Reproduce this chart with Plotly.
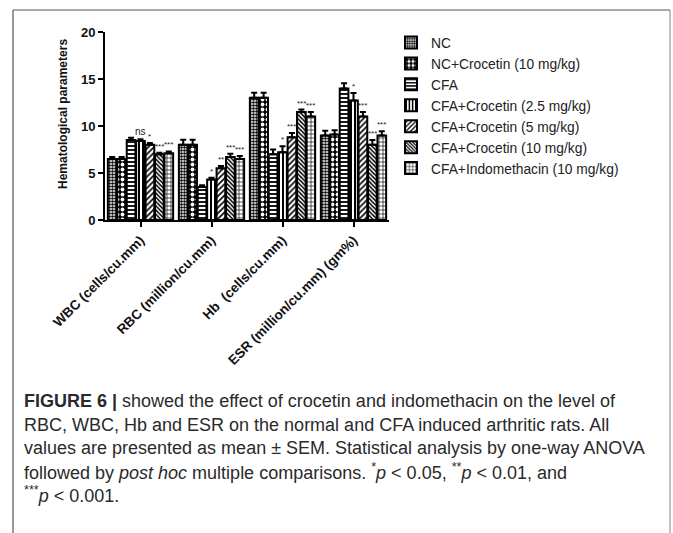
import plotly.graph_objects as go

categories = ["WBC (cells/cu.mm)", "RBC (million/cu.mm)", "Hb  (cells/cu.mm)", "ESR (million/cu.mm) (gm%)"]
groups = ["NC", "NC+Crocetin (10 mg/kg)", "CFA", "CFA+Crocetin (2.5 mg/kg)",
          "CFA+Crocetin (5 mg/kg)", "CFA+Crocetin (10 mg/kg)", "CFA+Indomethacin (10 mg/kg)"]
y_ticks = [0, 5, 10, 15, 20]

# values per group (WBC, RBC, Hb, ESR)
nc        = [6.5, 8.0, 13.0, 9.0]
nc_croc   = [6.5, 8.0, 13.0, 9.1]
cfa       = [8.5, 3.5, 7.0, 14.0]
cfa_c25   = [8.4, 4.3, 7.2, 12.7]
cfa_c5    = [8.0, 5.5, 8.8, 11.0]
cfa_c10   = [7.0, 6.7, 11.5, 8.0]
cfa_indo  = [7.1, 6.5, 11.0, 9.0]

sem_nc       = [0.2, 0.55, 0.55, 0.5]
sem_nc_croc  = [0.2, 0.55, 0.55, 0.45]
sem_cfa      = [0.25, 0.2, 0.5, 0.55]
sem_cfa_c25  = [0.2, 0.2, 0.65, 0.8]
sem_cfa_c5   = [0.2, 0.25, 0.45, 0.5]
sem_cfa_c10  = [0.15, 0.35, 0.25, 0.5]
sem_cfa_indo = [0.2, 0.3, 0.5, 0.45]

sig_nc       = ["", "", "", ""]
sig_nc_croc  = ["", "", "", ""]
sig_cfa      = ["", "", "", ""]
sig_cfa_c25  = ["ns", "*", "*", "*"]
sig_cfa_c5   = ["*", "**", "***", "***"]
sig_cfa_c10  = ["***", "***", "***", "***"]
sig_cfa_indo = ["***", "***", "***", "***"]

values = [nc, nc_croc, cfa, cfa_c25, cfa_c5, cfa_c10, cfa_indo]
sems = [sem_nc, sem_nc_croc, sem_cfa, sem_cfa_c25, sem_cfa_c5, sem_cfa_c10, sem_cfa_indo]
sigs = [sig_nc, sig_nc_croc, sig_cfa, sig_cfa_c25, sig_cfa_c5, sig_cfa_c10, sig_cfa_indo]

patterns = [
    dict(shape=".", size=3, solidity=0.55, fgcolor="black", bgcolor="white"),
    dict(shape=".", size=5, solidity=0.45, fgcolor="white", bgcolor="black"),
    dict(shape="-", size=4, solidity=0.45, fgcolor="black", bgcolor="white"),
    dict(shape="|", size=4, solidity=0.5, fgcolor="black", bgcolor="white"),
    dict(shape="/", size=4, solidity=0.4, fgcolor="black", bgcolor="white"),
    dict(shape="\\", size=3, solidity=0.5, fgcolor="black", bgcolor="white"),
    dict(shape="+", size=4, solidity=0.3, fgcolor="black", bgcolor="white"),
]

W, H = 673, 533
BARGAP = 0.07

fig = go.Figure()
for name, v, e, pat in zip(groups, values, sems, patterns):
    fig.add_trace(go.Bar(
        name=name, x=list(range(len(categories))), y=v,
        marker=dict(color=pat["bgcolor"], line=dict(color="black", width=2),
                    pattern=dict(shape=pat["shape"], size=pat["size"], solidity=pat["solidity"],
                                 fgcolor=pat["fgcolor"], bgcolor=pat["bgcolor"], fillmode="replace")),
        error_y=dict(type="data", array=e, arrayminus=[0]*len(e), symmetric=False,
                     color="black", thickness=2, width=3),
    ))

# significance labels
n = len(groups)
slot = (1 - BARGAP) / n
for i in range(n):
    for g in range(len(categories)):
        s = sigs[i][g]
        if not s:
            continue
        xpos = g - (1 - BARGAP) / 2 + slot * (i + 0.5)
        fig.add_annotation(x=xpos, y=values[i][g] + sems[i][g], text=s, showarrow=False,
                           yanchor="bottom", yshift=0,
                           font=dict(size=10 if s == "ns" else 8, color="#222", family="Arial"))

# y-axis title
fig.add_annotation(xref="paper", yref="paper", x=63 / W, y=1 - 114 / H, text="<b>Hematological parameters</b>",
                   textangle=-90, showarrow=False, xanchor="center", yanchor="middle",
                   font=dict(size=12, color="#111", family="Arial"))

# caption lines
cap_lines = [
    "<b>FIGURE 6 |</b> showed the effect of crocetin and indomethacin on the level of",
    "RBC, WBC, Hb and ESR on the normal and CFA induced arthritic rats. All",
    "values are presented as mean ± SEM. Statistical analysis by one-way ANOVA",
    "followed by <i>post hoc</i> multiple comparisons. <sup>*</sup><i>p</i> &lt; 0.05, <sup>**</sup><i>p</i> &lt; 0.01, and",
    "<sup>***</sup><i>p</i> &lt; 0.001.",
]
cap_y = [401, 425, 448, 471, 494]
for t, yy in zip(cap_lines, cap_y):
    fig.add_annotation(xref="paper", yref="paper", x=22 / W, y=1 - yy / H, text=t, showarrow=False,
                       xanchor="left", yanchor="middle", align="left",
                       font=dict(size=18, color="#2a2a2a", family="Liberation Sans, Arial"))

# frame
fig.add_shape(type="line", xref="paper", yref="paper", x0=13 / W, x1=13 / W, y0=0, y1=1 - 10 / H,
              line=dict(color="#555", width=1.2))
fig.add_shape(type="line", xref="paper", yref="paper", x0=13 / W, x1=670 / W, y0=1 - 10 / H, y1=1 - 10 / H,
              line=dict(color="#555", width=1.2))
fig.add_shape(type="line", xref="paper", yref="paper", x0=670 / W, x1=670 / W, y0=0, y1=1 - 10 / H,
              line=dict(color="#999", width=1.2))

fig.update_layout(
    width=W, height=H, margin=dict(l=0, r=0, t=0, b=0),
    paper_bgcolor="white", plot_bgcolor="white",
    barmode="group", bargap=BARGAP, bargroupgap=0.08,
    font=dict(family="Arial", color="#111"),
    showlegend=True,
    legend=dict(x=391 / W, y=1 - 27 / H, xanchor="left", yanchor="top",
                font=dict(size=13.8, color="#222", family="Arial"), bgcolor="rgba(0,0,0,0)",
                itemclick=False),
    xaxis=dict(domain=[105 / W, 389 / W], range=[-0.5, 3.5],
               tickmode="array", tickvals=list(range(len(categories))),
               ticktext=["<b>%s</b>" % c for c in categories],
               tickangle=-45, ticks="outside", ticklen=5, tickwidth=2, tickcolor="black",
               showline=True, linecolor="black", linewidth=2, showgrid=False, zeroline=False,
               tickfont=dict(size=13.5, color="#111", family="Arial"), automargin=False),
    yaxis=dict(domain=[1 - 220 / H, 1 - 32 / H], range=[0, 20],
               tickmode="array", tickvals=y_ticks, ticktext=["<b>%d</b>" % v for v in y_ticks],
               ticks="outside", ticklen=5, tickwidth=2, tickcolor="black",
               showline=True, linecolor="black", linewidth=2, showgrid=False, zeroline=False,
               tickfont=dict(size=13, color="#111", family="Arial"), automargin=False),
)

fig.write_html("out.html")
